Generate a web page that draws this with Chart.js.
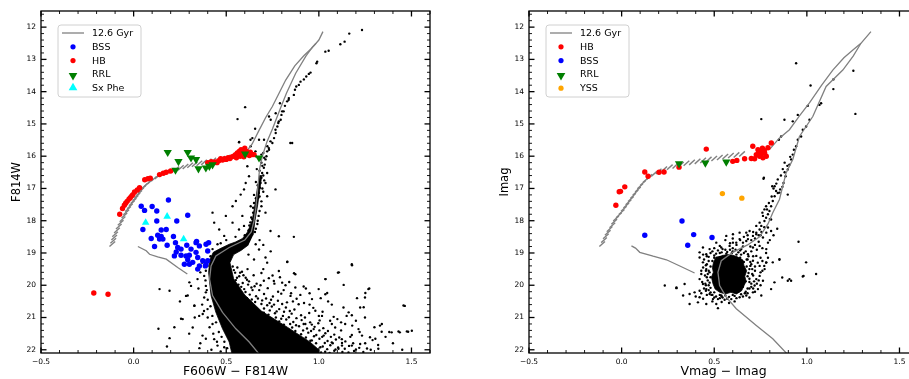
<!DOCTYPE html>
<html>
<head>
<meta charset="utf-8">
<script src="https://cdn.jsdelivr.net/npm/chart.js@4.4.1/dist/chart.umd.min.js"></script>
<style>
  html, body { margin: 0; padding: 0; background: #fff; }
  body { position: relative; width: 909px; height: 379px; overflow: hidden; }
  .panel { position: absolute; top: 0; }
  #leftPanel { left: 0; }
  #rightPanel { left: 488px; }
</style>
</head>
<body>
<div class="panel" id="leftPanel"><canvas id="leftChart" width="456" height="379"></canvas></div>
<div class="panel" id="rightPanel"><canvas id="rightChart" width="456" height="379"></canvas></div>
<script>
// Two colour-magnitude diagrams

const xTickValues = [-0.5, 0.0, 0.5, 1.0, 1.5];
const yTickValues = [12, 13, 14, 15, 16, 17, 18, 19, 20, 21, 22];
const xRange = [-0.5, 1.6];
const yRange = [11.5, 22.1];

const legendLeft = ['12.6 Gyr', 'BSS', 'HB', 'RRL', 'Sx Phe'];
const legendRight = ['12.6 Gyr', 'HB', 'BSS', 'RRL', 'YSS'];

// ---- left panel (F606W - F814W, F814W) ----
const leftIsoMain = [[0.68,22.15],[0.624,21.76],[0.552,21.35],[0.48,20.84],[0.426,20.32],[0.41,19.81],[0.418,19.4],[0.444,19.09],[0.516,18.83],[0.6,18.6],[0.635,18.35],[0.65,18.0],[0.66,17.6],[0.67,17.0],[0.68,16.4],[0.695,16.0],[0.72,15.55],[0.75,15.15],[0.79,14.55],[0.825,14.05],[0.875,13.43],[0.93,12.9],[0.965,12.62],[0.985,12.5],[1.0,12.4],[1.022,12.14]];
const leftIsoAgb = [[0.58,16.0],[0.61,15.85],[0.64,15.62],[0.677,15.2],[0.713,14.8],[0.749,14.46],[0.785,14.05],[0.821,13.64],[0.87,13.2],[0.92,12.88],[0.96,12.66],[0.985,12.5]];
const leftZams = [[0.023,18.8],[0.068,18.93],[0.086,19.04],[0.13,19.12],[0.176,19.19],[0.238,19.45],[0.29,19.65]];
const leftZahb = [[-0.115,18.72],[-0.11,18.62],[-0.105,18.52],[-0.1,18.42],[-0.09,18.3],[-0.08,18.18],[-0.07,18.06],[-0.06,17.95],[-0.05,17.84],[-0.04,17.74],[-0.03,17.64],[-0.02,17.55],[-0.01,17.46],[0.0,17.38],[0.01,17.3],[0.02,17.22],[0.03,17.14],[0.04,17.06],[0.05,16.99],[0.06,16.92],[0.075,16.85],[0.09,16.78],[0.11,16.7],[0.13,16.63],[0.155,16.56],[0.18,16.5],[0.205,16.45],[0.23,16.4],[0.255,16.36],[0.28,16.32],[0.305,16.28],[0.33,16.25],[0.355,16.22],[0.38,16.19],[0.405,16.16],[0.43,16.13],[0.455,16.1],[0.48,16.07],[0.505,16.04]];
const leftCore = [[0.645,18.45],[0.655,18.0],[0.67,17.5],[0.682,17.0],[0.692,16.6],[0.68,16.6],[0.668,17.0],[0.655,17.5],[0.64,18.0],[0.615,18.35],[0.588,18.55],[0.55,18.66],[0.516,18.73],[0.462,18.88],[0.43,18.98],[0.412,19.2],[0.405,19.6],[0.41,19.9],[0.418,20.32],[0.444,20.84],[0.48,21.35],[0.516,21.76],[0.534,22.2],[1.0,22.2],[1.0,22.0],[0.95,21.75],[0.83,21.3],[0.69,20.8],[0.6,20.3],[0.54,19.8],[0.52,19.3],[0.54,19.05],[0.58,18.92],[0.62,18.75]];
const leftField = [
  [0.784,18.48],[0.865,18.5],[0.739,18.32],[0.659,18.73],[0.677,18.89],[0.712,19.14],[0.721,19.3],[0.829,19.28],[1.178,19.35],[1.035,19.81],[1.103,19.61],[1.267,20.12],[1.249,20.38],[1.33,21.25],[1.339,21.44],[1.393,21.46],[1.437,21.46],[1.482,21.44],[1.464,20.64],[1.223,20.69],[1.249,21.0],[1.178,20.93],[1.142,21.2],[1.214,21.36],[1.178,21.54],[1.276,21.61],[1.124,21.67],[1.088,21.31],[1.07,21.77],[1.017,20.95],[1.035,20.28],[1.133,20.69],[0.972,21.36],[0.927,21.2],[0.981,20.79],[0.963,20.43],[0.873,20.07],[0.918,20.04],[0.873,19.66],[0.784,19.56],[0.757,19.87],[0.802,19.92],[0.847,20.33],[0.891,20.59],[0.999,20.12],[1.061,21.1],[1.026,21.56],[0.954,21.72],[1.178,21.87],[1.223,21.82],[1.106,21.97],[1.008,21.92],[1.321,21.97],
  [0.283,20.33],[0.328,20.64],[0.345,19.81],[0.381,20.38],[0.354,20.95],[0.319,21.31],[0.372,21.56],[0.399,20.74],[0.426,21.2],[0.435,21.67],[0.453,21.87],[0.489,21.92],[0.265,21.05],[0.381,19.71],[0.31,20.02],[0.39,20.02],[0.417,19.61],[0.399,19.4],
  [0.14,20.12],[0.194,20.17],[0.256,21.04],[0.134,21.35],[0.194,21.64],[0.355,21.95],[0.39,21.66],[0.292,20.32],[0.328,20.63],[0.373,20.89],[0.301,19.91],[0.39,20.22],
  [0.83,19.27],[0.866,19.63],[1.108,19.6],[1.179,19.38],[1.036,19.81],[1.134,19.99],[1.272,20.1],[1.251,20.24],[1.206,20.4],[1.045,20.24],[1.161,20.84],[1.242,20.68],[1.457,20.63],[1.34,21.2],[1.38,21.45],[1.43,21.43],[1.475,21.43],[1.502,21.41],[1.305,21.66],[1.233,21.56],[1.125,21.87],
  [1.233,12.09],[1.164,12.2],[1.139,12.45],[1.116,12.53],[1.053,12.73],[1.035,12.76],[0.991,13.07],[0.987,13.12],[0.955,13.41],[0.946,13.45],[0.932,13.53],[0.919,13.62],[0.901,13.69],[0.892,13.79],[0.878,13.84],[0.871,13.94],[0.865,14.1],[0.838,14.2],[0.829,14.3],[0.817,14.44],[0.802,14.61],[0.794,14.87],[0.781,14.97],[0.776,15.08],[0.767,15.28],[0.758,15.44],[0.749,15.59],[0.731,15.8],[0.722,15.69],[0.74,14.87],[0.731,14.77],[0.767,14.67],[0.79,14.36],[0.856,15.59],[0.602,14.48],[0.561,14.85],[0.656,15.15],[0.57,15.56],[0.641,15.44],[0.632,15.69],
  [0.837,14.25],[0.81,14.61],[0.798,14.72],[0.784,14.92],[0.766,15.18],[0.739,15.54],[0.73,15.75],[0.721,15.85],[0.717,16.0],[0.712,16.1],[0.708,16.26],[0.703,16.36],[0.694,16.52],[0.69,16.67],[0.685,16.83],[0.682,16.98],[0.676,17.14],[0.673,17.29],[0.846,15.59],[0.569,15.57],[0.631,15.49],[0.605,16.83],[0.596,17.03],[0.766,17.03],[0.614,16.31],[0.658,15.85],
  [0.623,16.62],[0.578,17.19],[0.552,17.39],[0.534,17.55],[0.498,17.85],[0.462,18.27],[0.435,18.06],[0.426,17.75],[0.534,18.06],[0.569,18.27],[0.489,18.47],[0.453,18.73],[0.426,18.88],[0.525,18.78],[0.587,17.85],[0.596,18.16],[0.632,17.55],[0.712,17.75],[0.721,17.24],[0.712,16.83],[0.721,16.52],[0.677,15.49],[0.704,15.49],
  [0.66,16.0],[0.7,15.9],[0.69,16.2],[0.665,16.4],[0.7,16.6],[0.66,16.8],[0.695,17.0],[0.65,17.2],[0.69,17.4],[0.645,17.6],[0.68,17.7],[0.635,17.9],[0.67,18.0],[0.625,18.15],[0.66,18.25],
  [0.695,16.3],[0.68,16.45],[0.705,16.75],[0.67,16.9],[0.7,17.1],[0.66,17.3],[0.69,17.55],[0.645,17.75],[0.675,17.85],[0.63,18.05],[0.668,18.1],[0.62,18.3],[0.655,18.35],[0.685,16.1],[0.705,16.05],[0.69,15.95],[0.68,17.25],[0.65,17.45],[0.64,17.95],
  [0.56,19.45],[0.585,19.58],[0.615,19.5],[0.57,19.72],[0.605,19.77],[0.648,19.69],[0.589,19.93],[0.623,19.88],[0.664,19.95],[0.703,19.86],[0.597,20.12],[0.636,20.07],[0.678,20.15],[0.724,20.09],[0.627,20.29],[0.661,20.34],[0.704,20.27],[0.752,20.35],[0.797,20.26],[0.656,20.52],[0.694,20.47],[0.734,20.55],[0.779,20.48],[0.828,20.53],[0.704,20.72],[0.746,20.66],[0.786,20.74],[0.822,20.69],[0.868,20.75],[0.728,20.91],[0.763,20.87],[0.806,20.95],[0.853,20.88],[0.904,20.93],[0.948,20.86],[0.786,21.12],[0.824,21.06],[0.862,21.14],[0.907,21.08],[0.953,21.15],[1.004,21.09],[0.856,21.31],[0.893,21.27],[0.936,21.34],[0.977,21.29],[1.024,21.33],[0.904,21.52],[0.943,21.47],[0.986,21.54],[1.035,21.49],[1.083,21.53],[0.962,21.71],[1.003,21.66],[1.047,21.73],[1.092,21.68],[1.143,21.74],[1.021,21.9],[1.062,21.86],[1.104,21.93],[1.163,21.88],[1.218,21.94],[1.034,22.06],[1.083,22.03],[1.127,22.07],[1.19,22.04],
  [0.535,19.42],[0.548,19.61],[0.552,19.84],[0.566,19.98],[0.541,19.53],[0.575,19.61],[0.593,19.69],[0.558,19.77],[0.612,19.83],[0.581,20.05],[0.604,20.21],[0.618,19.98],[0.642,20.15],[0.653,20.03],[0.685,20.0],[0.612,20.4],[0.638,20.44],[0.671,20.41],[0.69,20.58],[0.715,20.41],[0.742,20.45],[0.721,20.62],[0.758,20.6],[0.802,20.58],[0.703,20.85],[0.735,20.78],[0.772,20.81],[0.812,20.82],[0.843,20.8],[0.74,21.02],[0.768,21.0],[0.797,21.04],[0.838,20.99],[0.879,21.02],[0.925,21.0],[0.811,21.22],[0.845,21.2],[0.877,21.24],[0.918,21.2],[0.962,21.22],[0.997,21.18],[0.873,21.42],[0.915,21.4],[0.958,21.42],[1.003,21.4],[1.049,21.42],[0.93,21.62],[0.974,21.58],[1.018,21.6],[1.065,21.6],[1.11,21.62],[0.985,21.8],[1.032,21.79],[1.075,21.8],[1.125,21.79],[1.185,21.8],[1.045,21.98],[1.09,21.99],[1.14,21.97],[1.2,21.99],[1.26,21.96],[1.012,22.08],[1.058,22.1],[1.16,22.08],[1.24,22.07],
  [0.76,19.95],[0.81,20.15],[0.85,20.25],[0.88,20.42],[0.92,20.55],[0.97,20.7],[1.02,20.82],[1.08,20.98],[1.12,21.15],[1.18,21.25],[1.22,21.45],[1.29,21.7],[1.32,21.85],[0.69,19.62],[0.73,19.78],[0.79,19.75],[0.84,19.9],[0.95,20.25],[1.01,20.4],[1.07,20.6],[1.15,20.95],[1.2,21.1],[1.3,21.3],[1.36,21.6],[1.4,21.8],[1.45,22.0],
  [0.75,19.7],[0.82,20.0],[0.9,20.3],[0.95,20.6],[1.0,20.95],[1.07,21.2],[1.12,21.4],[1.17,21.6],[1.25,21.8],[1.28,22.0],[0.7,19.5],[0.78,20.2],[0.86,20.5],[1.1,21.05],[0.93,20.1],[1.05,20.5],
  [0.395,19.25],[0.39,19.55],[0.388,19.85],[0.395,20.15],[0.4,20.45],[0.415,20.65],[0.425,20.95],[0.445,21.15],[0.46,21.45],[0.475,21.6],[0.49,21.75],[0.505,21.95],[0.44,19.05],[0.415,19.1],
  [0.37,19.3],[0.36,19.6],[0.35,20.1],[0.37,20.6],[0.38,20.8],[0.4,21.0],[0.41,21.3],[0.43,21.5],[0.45,21.75],[0.47,22.05],[0.33,21.0],[0.3,21.5],[0.36,21.8],[0.42,22.0],[0.25,20.5],[0.22,21.3],[0.18,21.9],
  [0.5,18.6],[0.55,18.5],[0.6,18.45],[0.47,18.7],[0.68,18.6],[0.7,18.75],[0.74,18.95],[0.62,19.05],[0.65,19.2]
];
const leftHB = [[-0.215,20.24],[-0.138,20.28],[-0.075,17.8],[-0.06,17.62],[-0.05,17.52],[-0.043,17.46],[-0.035,17.4],[-0.025,17.33],[-0.018,17.29],[-0.01,17.23],[-0.004,17.19],[0.005,17.11],[0.02,17.05],[0.032,16.98],[0.06,16.73],[0.077,16.7],[0.09,16.68],[0.14,16.57],[0.16,16.53],[0.176,16.5],[0.2,16.46],[0.4,16.2],[0.42,16.17],[0.44,16.18],[0.45,16.2],[0.46,16.14],[0.47,16.08],[0.48,16.12],[0.49,16.08],[0.5,16.1],[0.51,16.05],[0.52,16.07],[0.53,16.02],[0.54,16.0],[0.55,15.95],[0.555,16.05],[0.56,15.9],[0.57,15.85],[0.575,16.0],[0.58,15.8],[0.585,15.95],[0.59,15.88],[0.6,15.75],[0.605,15.95],[0.61,15.85],[0.62,15.9],[0.63,15.88],[0.64,15.95],[0.65,15.95],[0.565,15.98],[0.595,16.02],[0.625,15.98]];
const leftBSS = [[0.188,17.36],[0.041,17.55],[0.1,17.56],[0.059,17.68],[0.125,17.7],[0.292,17.83],[0.125,18.01],[0.233,18.01],[0.176,18.27],[0.149,18.29],[0.05,18.27],[0.13,18.45],[0.149,18.49],[0.158,18.57],[0.14,18.57],[0.095,18.55],[0.113,18.8],[0.181,18.76],[0.215,18.49],[0.226,18.68],[0.238,18.83],[0.23,18.97],[0.256,18.88],[0.22,19.09],[0.287,18.76],[0.31,18.88],[0.301,19.07],[0.34,18.64],[0.355,18.78],[0.337,18.98],[0.346,19.14],[0.391,18.73],[0.4,18.94],[0.373,19.24],[0.292,19.21],[0.256,19.07],[0.274,19.35],[0.319,19.29],[0.355,19.4],[0.387,19.4],[0.283,19.09],[0.301,19.35],[0.346,19.5],[0.391,19.35],[0.405,18.68],[0.337,18.68],[0.4,19.24]];
const leftRRL = [[0.184,15.88],[0.292,15.88],[0.242,16.16],[0.226,16.43],[0.31,16.05],[0.337,16.1],[0.35,16.39],[0.39,16.36],[0.409,16.31],[0.426,16.26],[0.602,15.93],[0.677,16.05]];
const leftSxPhe = [[0.065,18.06],[0.181,17.87],[0.27,18.57]];

// ---- right panel (Vmag - Imag, Imag) ----
const rightIsoMain = [[0.897,22.15],[0.816,21.66],[0.727,21.25],[0.619,20.73],[0.565,20.37],[0.529,20.01],[0.52,19.6],[0.538,19.24],[0.6,18.98],[0.68,18.75],[0.745,18.5],[0.79,18.1],[0.816,17.75],[0.852,17.34],[0.888,16.52],[0.924,16.1],[0.96,15.39],[1.032,14.77],[1.104,13.84],[1.194,13.33],[1.25,12.9],[1.292,12.5],[1.346,12.14]];
const rightIsoAgb = [[0.8,15.78],[0.85,15.45],[0.906,15.18],[0.96,14.75],[1.014,14.35],[1.08,13.8],[1.14,13.33],[1.2,12.95],[1.25,12.7],[1.292,12.5]];
const rightZams = [[0.053,18.78],[0.075,18.85],[0.098,18.98],[0.17,19.1],[0.242,19.21],[0.32,19.42],[0.394,19.62]];
const rightZahb = [[-0.105,18.72],[-0.095,18.6],[-0.085,18.48],[-0.075,18.37],[-0.065,18.26],[-0.05,18.14],[-0.04,18.03],[-0.03,17.93],[-0.015,17.83],[0.0,17.73],[0.012,17.63],[0.025,17.53],[0.037,17.43],[0.05,17.33],[0.062,17.23],[0.075,17.13],[0.088,17.03],[0.1,16.93],[0.115,16.83],[0.13,16.74],[0.15,16.64],[0.175,16.55],[0.2,16.47],[0.23,16.4],[0.26,16.34],[0.29,16.3],[0.32,16.26],[0.35,16.22],[0.38,16.19],[0.41,16.16],[0.44,16.13],[0.47,16.1],[0.5,16.07],[0.53,16.04],[0.56,16.01],[0.59,15.98],[0.62,15.96],[0.65,15.93]];
const rightCore = [[0.51,19.12],[0.497,19.28],[0.49,19.45],[0.495,19.6],[0.485,19.75],[0.493,19.95],[0.505,20.12],[0.53,20.22],[0.56,20.27],[0.59,20.22],[0.62,20.27],[0.648,20.17],[0.66,20.02],[0.672,19.88],[0.665,19.72],[0.675,19.55],[0.66,19.38],[0.655,19.22],[0.625,19.12],[0.6,19.07],[0.575,19.05],[0.54,19.08]];
const rightField = [
  [0.565,18.47],[0.601,18.42],[0.637,18.37],[0.691,18.32],[0.727,18.42],[0.763,18.52],[0.781,18.37],[0.807,18.32],[0.619,18.68],[0.673,18.63],[0.709,18.83],[0.745,18.78],[0.79,18.68],[0.511,18.68],[0.475,18.88],[0.439,18.83],[0.538,18.83],[0.583,18.78],[0.646,18.88],[0.682,19.04],[0.727,19.09],[0.421,18.98],[0.457,19.04],[0.421,19.14],[0.439,19.29],[0.457,19.5],[0.43,19.65],[0.421,19.81],[0.439,19.96],[0.457,20.12],[0.421,20.17],[0.394,20.22],[0.367,20.27],[0.332,20.32],[0.296,20.07],[0.233,20.01],[0.34,19.96],[0.475,20.27],[0.493,20.43],[0.52,20.43],[0.556,20.45],[0.592,20.43],[0.637,20.37],[0.673,20.32],[0.709,20.22],[0.736,20.12],[0.754,20.32],[0.718,20.01],[0.727,19.81],[0.745,19.71],[0.763,19.86],[0.807,20.12],[0.772,19.5],[0.781,19.29],[0.825,19.91],[0.867,19.76],[0.897,19.86],[0.906,19.81],[0.982,19.71],[0.996,19.29],[1.05,19.65],[0.955,18.65],[0.852,19.19],[0.816,19.29],[0.781,18.88],[0.745,19.4],[0.709,19.24],[0.511,20.58],[0.457,20.58],[0.412,20.53],[0.367,20.58],[0.421,20.37],[0.52,20.71],[0.538,20.32],[0.619,20.22],
  [0.296,20.09],[0.78,19.3],[0.852,19.21],[0.915,19.86],[0.978,19.73],
  [0.46,19.1],[0.47,19.25],[0.455,19.38],[0.47,19.55],[0.45,19.7],[0.465,19.85],[0.455,20.0],[0.47,20.15],[0.49,20.3],[0.51,20.35],[0.545,20.38],[0.58,20.36],[0.61,20.33],[0.645,20.28],[0.67,20.2],[0.69,20.1],[0.7,19.95],[0.69,19.8],[0.705,19.65],[0.69,19.5],[0.7,19.35],[0.68,19.2],[0.66,19.0],[0.63,18.98],[0.6,18.95],[0.57,18.97],[0.54,18.98],[0.51,19.02],[0.48,19.0],[0.445,19.2],[0.44,19.45],[0.435,19.9],[0.445,20.1],[0.48,20.22],[0.72,19.55],[0.73,19.95],[0.71,20.1],[0.735,19.3],[0.71,19.1],[0.7,18.95],[0.75,19.15],[0.76,19.55],[0.655,18.8],[0.6,18.85],[0.56,18.9],[0.73,18.9],[0.66,18.5],[0.7,18.6],[0.74,18.65],
  [0.64,19.15],[0.66,19.28],[0.675,19.42],[0.665,19.58],[0.68,19.72],[0.67,19.88],[0.655,20.05],[0.63,20.2],[0.6,20.3],[0.56,20.32],[0.53,20.3],[0.5,20.22],[0.48,20.08],[0.475,19.92],[0.48,19.75],[0.475,19.6],[0.48,19.42],[0.49,19.25],[0.5,19.08],[0.53,19.0],[0.565,19.02],[0.595,19.0],[0.62,19.05],[0.645,19.05],[0.685,19.1],[0.695,19.28],[0.72,19.42],[0.71,19.7],[0.715,19.88],[0.7,20.05],[0.68,20.25],[0.655,20.35],[0.62,20.4],[0.57,20.42],[0.53,20.4],[0.5,20.38],[0.46,20.3],[0.455,20.17],[0.452,19.95],[0.46,19.75],[0.455,19.55],[0.46,19.35],[0.47,19.12],[0.49,18.95],[0.52,18.92],[0.545,18.88],[0.585,18.9],[0.615,18.9],[0.64,18.92],[0.67,18.95],[0.695,18.8],[0.72,18.75],[0.76,18.85],[0.78,19.0],[0.79,19.15],[0.76,19.25],[0.77,19.4],[0.75,19.6],[0.74,19.85],[0.75,20.0],[0.72,20.2],[0.69,20.38],[0.61,20.5],[0.58,20.55],[0.54,20.52],[0.49,20.5],[0.44,20.42],[0.4,20.35],[0.43,20.25],[0.43,19.55],[0.44,19.05],[0.56,18.6],[0.6,18.55],[0.64,18.6],[0.68,18.45],[0.72,18.55],[0.75,18.45],[0.62,18.75],[0.585,18.7],[0.53,18.78],[0.5,18.85],[0.8,18.6],[0.82,18.45],[0.84,18.25],
  [0.685,19.62],[0.695,19.4],[0.68,20.1],[0.69,19.9],[0.465,19.65],[0.47,20.0],[0.485,20.3],[0.5,19.15],[0.675,19.2],[0.705,19.5],[0.665,20.25],[0.54,20.35],
  [0.942,13.12],[1.02,13.81],[1.143,13.62],[1.143,13.92],[1.251,13.35],[1.262,14.69],[1.077,14.36],[1.068,14.41],[1.005,14.44],[0.951,14.72],[0.924,14.92],[0.879,14.87],[0.754,14.85],[0.849,15.49],[0.861,15.39],[1.014,14.87],[0.996,15.08],[0.978,15.18],[0.969,15.39],[0.951,15.49],[0.942,15.69],[0.924,15.95],[0.915,16.1],[0.906,16.26],[0.897,16.41],[0.885,16.62],[0.874,16.83],[0.856,17.03],[0.843,17.14],[0.813,16.93],[0.826,17.24],[0.766,16.7],[0.897,17.19],
  [0.843,16.72],[0.834,17.08],[0.816,17.39],[0.807,17.55],[0.798,17.7],[0.79,17.8],[0.78,17.91],[0.771,18.01],[0.754,18.16],[0.745,18.27],[0.727,18.37],[0.709,18.47],[0.682,18.57],[0.655,18.68],[0.78,17.55],[0.807,17.96],[0.763,17.85],[0.771,17.65],[0.745,18.06],[0.79,18.21],[0.727,18.16],[0.768,16.67],[0.852,17.13],[0.826,16.93],[0.673,18.37],[0.637,18.57],[0.601,18.68],
  [0.93,15.8],[0.91,16.02],[0.895,16.3],[0.88,16.5],[0.868,16.95],
  [0.785,17.65],[0.795,17.45],[0.81,17.25],[0.8,17.95],[0.77,18.2],[0.755,18.35],[0.74,18.45],[0.71,18.35],[0.76,17.75],[0.82,17.0],[0.835,16.85],[0.86,16.6],[0.87,16.4],[0.88,16.2]
];
const rightHB = [[0.457,15.78],[0.125,16.49],[0.143,16.62],[0.202,16.5],[0.229,16.49],[0.31,16.34],[0.017,16.95],[-0.013,17.1],[-0.006,17.09],[-0.031,17.52],[0.6,16.16],[0.622,16.13],[0.664,16.08],[0.7,16.07],[0.708,15.69],[0.736,15.8],[0.754,15.85],[0.772,15.9],[0.781,16.0],[0.745,16.0],[0.727,15.95],[0.79,15.74],[0.808,15.59],[0.763,16.05],[0.718,16.08],[0.75,15.95],[0.77,15.82],[0.76,15.75],[0.74,15.9]];
const rightBSS = [[0.326,18.01],[0.125,18.45],[0.389,18.43],[0.488,18.52],[0.357,18.76]];
const rightRRL = [[0.31,16.23],[0.452,16.21],[0.565,16.18]];
const rightYSS = [[0.544,17.16],[0.649,17.3]];

const isoColor = '#808080';
const toXY = arr => arr.map(([x, y]) => ({x, y}));

function lineSet(label, data, order) {
    return { label, data: toXY(data), showLine: true, pointRadius: 0, borderColor: isoColor, borderWidth: 1.3, fill: false, order };
}

function dotSet(label, data, color, radius, order, style = 'circle', rotation = 0) {
    return { label, data: toXY(data), pointStyle: style, pointRotation: rotation, pointRadius: radius,
             pointBackgroundColor: color, backgroundColor: color, pointBorderWidth: 0, borderWidth: 0, order };
}

function zahbSet(data) {
    return { label: 'zahb', data: toXY(data), pointStyle: 'line', pointRotation: -42, pointRadius: 3.8,
             pointBorderColor: isoColor, pointBorderWidth: 1.4, order: 7 };
}

function coreSet(data) {
    return { label: 'core', data: toXY(data), showLine: true, fill: 'shape', pointRadius: 0,
             borderColor: '#000', backgroundColor: '#000', borderWidth: 0.8, order: 10 };
}

// inward ticks on all four sides plus the box, like the original figure
const frameTicks = {
    id: 'frameTicks',
    afterDraw(chart) {
        const {ctx, chartArea: a, scales: {x, y}} = chart;
        ctx.save();
        ctx.strokeStyle = '#000';
        const tick = (px, py, dx, dy, w) => {
            ctx.lineWidth = w;
            ctx.beginPath();
            ctx.moveTo(px, py);
            ctx.lineTo(px + dx, py + dy);
            ctx.stroke();
        };
        for (let i = Math.ceil(x.min * 10 - 1e-6); i <= Math.floor(x.max * 10 + 1e-6); i++) {
            const major = i % 5 === 0;
            const len = major ? 5.5 : 3, w = major ? 1.3 : 0.9;
            const px = x.getPixelForValue(i / 10);
            tick(px, a.bottom, 0, -len, w);
            tick(px, a.top, 0, len, w);
        }
        for (let i = Math.ceil(y.min * 5 - 1e-6); i <= Math.floor(y.max * 5 + 1e-6); i++) {
            const major = i % 5 === 0;
            const len = major ? 5.5 : 3, w = major ? 1.3 : 0.9;
            const py = y.getPixelForValue(i / 5);
            tick(a.left, py, len, 0, w);
            tick(a.right, py, -len, 0, w);
        }
        ctx.lineWidth = 1.3;
        ctx.strokeRect(a.left, a.top, a.right - a.left, a.bottom - a.top);
        ctx.restore();
    }
};

// matplotlib-like legend box in the upper left of the axes
const cmdLegend = {
    id: 'cmdLegend',
    afterDraw(chart, args, opts) {
        const {ctx, chartArea: a} = chart;
        const x0 = a.left + 17, y0 = a.top + 14, w = 83, h = 72, r = 3;
        ctx.save();
        ctx.beginPath();
        ctx.moveTo(x0 + r, y0);
        ctx.arcTo(x0 + w, y0, x0 + w, y0 + h, r);
        ctx.arcTo(x0 + w, y0 + h, x0, y0 + h, r);
        ctx.arcTo(x0, y0 + h, x0, y0, r);
        ctx.arcTo(x0, y0, x0 + w, y0, r);
        ctx.closePath();
        ctx.fillStyle = 'rgba(255,255,255,0.8)';
        ctx.fill();
        ctx.strokeStyle = '#d0d0d0';
        ctx.lineWidth = 1;
        ctx.stroke();
        ctx.font = '9.5px "DejaVu Sans"';
        ctx.textBaseline = 'middle';
        opts.labels.forEach((label, i) => {
            const ds = chart.data.datasets.find(d => d.label === label);
            const cy = y0 + 8 + i * 13.8;
            const hx = x0 + 15;
            if (ds.showLine) {
                ctx.strokeStyle = ds.borderColor;
                ctx.lineWidth = 1.3;
                ctx.beginPath();
                ctx.moveTo(x0 + 4, cy);
                ctx.lineTo(x0 + 26, cy);
                ctx.stroke();
            } else {
                ctx.fillStyle = ds.pointBackgroundColor;
                const big = ds.pointStyle === 'triangle';
                Chart.helpers.drawPoint(ctx, {
                    pointStyle: ds.pointStyle, rotation: ds.pointRotation || 0,
                    radius: big ? 5 : 2.6, borderWidth: 0
                }, hx, cy + (big ? (ds.pointRotation ? 1 : -0.5) : 0));
            }
            ctx.fillStyle = '#000';
            ctx.fillText(label, x0 + 34, cy + 0.5);
        });
        ctx.restore();
    }
};

function fmtX(v) {
    return v < 0 ? '\u2212' + Math.abs(v).toFixed(1) : v.toFixed(1);
}

function makeOptions(xTitle, yTitle, legendLabels) {
    const tickFont = { family: 'DejaVu Sans', size: 7.5 };
    return {
        responsive: false,
        animation: false,
        events: [],
        layout: { padding: { top: 11, right: 26, left: 0, bottom: 0 } },
        plugins: {
            legend: { display: false },
            tooltip: { enabled: false },
            cmdLegend: { labels: legendLabels }
        },
        scales: {
            x: {
                type: 'linear', min: xRange[0], max: xRange[1],
                grid: { display: false, drawTicks: false },
                border: { display: false },
                afterBuildTicks: s => { s.ticks = xTickValues.map(v => ({ value: v })); },
                afterFit: s => { s.height = 26; },
                ticks: { font: tickFont, color: '#000', padding: 5, maxRotation: 0, autoSkip: false, callback: v => fmtX(v) },
                title: { display: true, text: xTitle, color: '#000', font: { family: 'DejaVu Sans', size: 12.5 }, padding: { top: 0, bottom: 0 } }
            },
            y: {
                type: 'linear', reverse: true, min: yRange[0], max: yRange[1],
                grid: { display: false, drawTicks: false },
                border: { display: false },
                afterBuildTicks: s => { s.ticks = yTickValues.map(v => ({ value: v })); },
                afterFit: s => { s.width = 41; },
                ticks: { font: tickFont, color: '#000', padding: 5, autoSkip: false, callback: v => String(v) },
                title: { display: true, text: yTitle, color: '#000', font: { family: 'DejaVu Sans', size: 11.5 }, padding: { top: 10, bottom: 0 } }
            }
        }
    };
}

new Chart(document.getElementById('leftChart'), {
    type: 'scatter',
    data: {
        datasets: [
            lineSet('12.6 Gyr', leftIsoMain, 8),
            lineSet('agb', leftIsoAgb, 8),
            lineSet('zams', leftZams, 8),
            zahbSet(leftZahb),
            coreSet(leftCore),
            dotSet('field', leftField, '#000', 1.2, 9),
            dotSet('HB', leftHB, '#ff0000', 2.7, 5),
            dotSet('BSS', leftBSS, '#0000ff', 2.7, 4),
            dotSet('RRL', leftRRL, '#007f00', 4.8, 3, 'triangle', 180),
            dotSet('Sx Phe', leftSxPhe, '#00ffff', 4.4, 2, 'triangle', 0)
        ]
    },
    options: makeOptions('F606W \u2212 F814W', 'F814W', legendLeft),
    plugins: [frameTicks, cmdLegend]
});

new Chart(document.getElementById('rightChart'), {
    type: 'scatter',
    data: {
        datasets: [
            lineSet('12.6 Gyr', rightIsoMain, 8),
            lineSet('agb', rightIsoAgb, 8),
            lineSet('zams', rightZams, 8),
            zahbSet(rightZahb),
            coreSet(rightCore),
            dotSet('field', rightField, '#000', 1.2, 9),
            dotSet('HB', rightHB, '#ff0000', 2.7, 5),
            dotSet('BSS', rightBSS, '#0000ff', 2.7, 4),
            dotSet('RRL', rightRRL, '#007f00', 4.8, 3, 'triangle', 180),
            dotSet('YSS', rightYSS, '#ffa500', 2.7, 2)
        ]
    },
    options: makeOptions('Vmag \u2212 Imag', 'Imag', legendRight),
    plugins: [frameTicks, cmdLegend]
});
</script>
</body>
</html>
